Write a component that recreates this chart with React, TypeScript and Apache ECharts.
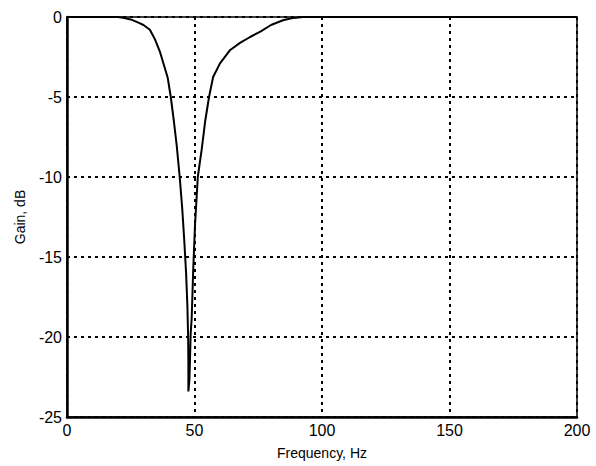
import React, { useEffect, useRef } from "react";
import * as echarts from "echarts";

const freqHz = [
  0, 20, 22, 25, 28, 30, 32.5, 34.5, 36.5, 38, 39.5, 40.7, 41.9, 43.0, 44.2,
  45.2, 46.0, 46.7, 47.2, 47.5, 47.6, 47.6, 48.0, 48.3, 48.5, 48.9, 49.2, 49.5,
  50.2, 51.3, 52.0, 52.8, 54.2, 55.7, 57.3, 60, 64, 68, 71.8, 76, 80, 84.7, 88,
  92.5, 100, 150, 200,
];
const gainDb = [
  0, 0, -0.05, -0.15, -0.35, -0.5, -0.8, -1.4, -2.2, -3, -3.8, -5, -6.5, -8,
  -10, -12, -14, -16, -18, -20, -21.5, -23.4, -22.7, -21, -19.8, -18.8, -17.3,
  -15.8, -13, -10, -9.2, -8.3, -6.5, -5, -3.75, -2.9, -2.06, -1.6, -1.25, -0.9,
  -0.5, -0.2, -0.08, 0, 0, 0, 0,
];
const xTicks = [0, 50, 100, 150, 200];
const yTicks = [-25, -20, -15, -10, -5, 0];

export default function App() {
  const ref = useRef<HTMLDivElement>(null);
  useEffect(() => {
    if (!ref.current) return;
    const chart = echarts.init(ref.current, null, { renderer: "svg" });
    const data = freqHz.map((f, i) => [f, gainDb[i]]);
    const font = "Liberation Sans, Arial, sans-serif";
    chart.setOption({
      animation: false,
      backgroundColor: "#ffffff",
      grid: {
        left: 67,
        right: 19,
        top: 17,
        bottom: 49,
        show: true,
        borderColor: "#000",
        borderWidth: 1.5,
        backgroundColor: "transparent",
      },
      xAxis: {
        type: "value",
        min: xTicks[0],
        max: xTicks[xTicks.length - 1],
        interval: 50,
        name: "Frequency, Hz",
        nameLocation: "middle",
        nameGap: 29,
        nameTextStyle: { color: "#000", fontSize: 14, fontFamily: font },
        axisLine: { show: true, onZero: false, lineStyle: { color: "#000", width: 2.5 } },
        axisTick: { show: false },
        axisLabel: { color: "#000", fontSize: 16, fontFamily: font, margin: 5 },
        splitLine: {
          show: true,
          lineStyle: { color: "#000", width: 2, type: [3, 4] },
        },
      },
      yAxis: {
        type: "value",
        min: yTicks[0],
        max: yTicks[yTicks.length - 1],
        interval: 5,
        name: "Gain, dB",
        nameLocation: "middle",
        nameGap: 40,
        nameTextStyle: { color: "#000", fontSize: 14, fontFamily: font },
        axisLine: { show: true, onZero: false, lineStyle: { color: "#000", width: 2.5 } },
        axisTick: { show: false },
        axisLabel: { color: "#000", fontSize: 16, fontFamily: font, margin: 5 },
        splitLine: {
          show: true,
          lineStyle: { color: "#000", width: 2, type: [3, 4] },
        },
      },
      series: [
        {
          type: "line",
          data,
          showSymbol: false,
          symbol: "none",
          lineStyle: { color: "#000", width: 2 },
          clip: true,
        },
      ],
    });
    return () => chart.dispose();
  }, []);
  return (
    <div
      ref={ref}
      style={{ position: "fixed", left: 0, top: 0, width: 596, height: 466 }}
    />
  );
}
